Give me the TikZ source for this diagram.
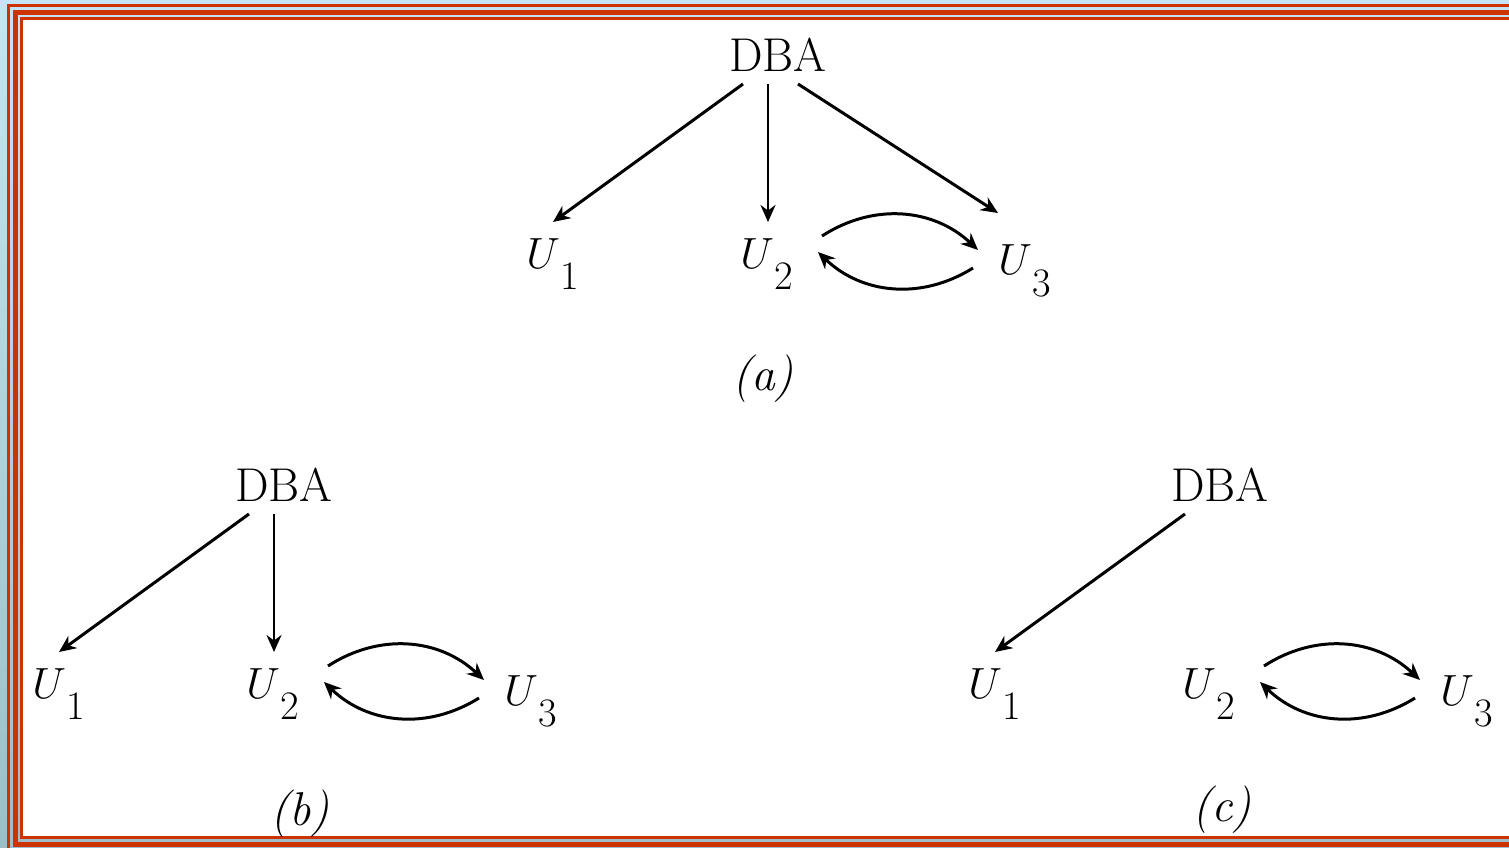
\documentclass[tikz,border=0pt]{standalone}
\usepackage{tikz}
\usetikzlibrary{arrows.meta,calc}
\definecolor{frame}{RGB}{204,51,0}
\definecolor{sky}{RGB}{198,228,245}
\definecolor{slate}{RGB}{160,188,202}
\newcommand{\uname}[1]{$U$\kern0.5pt\raisebox{-12.5pt}{\fontsize{23}{28}\selectfont #1}}

\begin{document}
\begin{tikzpicture}[
x=0.02cm,y=-0.02cm,
lbl/.style={font=\fontsize{27}{32}\selectfont,inner sep=0pt},
usr/.style={lbl,anchor=base west},
t/.style={-{Stealth[length=3.4mm,width=3mm]},line width=1.7pt}
]
% frame
\clip (0,0) rectangle (1509,848);
\shade[top color=sky,bottom color=slate] (0,0) rectangle (1509,848);
\fill[white] (23,20) rectangle (1520,836);
\draw[frame,line width=0.06cm] (8.5,5.3) rectangle (1530,860);
\draw[frame,line width=0.1cm] (15.5,12.5) rectangle (1530,844.5);
\draw[frame,line width=0.06cm] (21.5,18.5) rectangle (1530,837.5);

% (a)
\node[lbl] (dbaa) at (778,55) {DBA};
\node[usr] (u1a) at (526,268) {\uname{1}};
\node[usr] (u2a) at (740,268) {\uname{2}};
\node[usr] (u3a) at (998,275) {\uname{3}};
\draw[t] ($(dbaa)+(-35,29)$) -- ($(u1a.base west)+(27,-46)$);
\draw[t] ($(dbaa)+(-10,29)$) -- ($(u2a.base west)+(28,-46)$);
\draw[t] ($(dbaa)+(20,29)$) -- ($(u3a.base west)+(0,-62)$);
\draw[t] ($(u2a.base west)+(82,-32)$) to[bend left=38] ($(u3a.base west)+(-20,-25)$);
\draw[t] ($(u3a.base west)+(-25,-7)$) to[bend left=38] ($(u2a.base west)+(78,-16)$);
\node[lbl] (capa) at (763,379) {\textit{(a)}};

% (b)
\begin{scope}[shift={(-494,430)}]
\node[lbl] (dbab) at (778,55) {DBA};
\node[usr] (u1b) at (526,268) {\uname{1}};
\node[usr] (u2b) at (740,268) {\uname{2}};
\node[usr] (u3b) at (998,275) {\uname{3}};
\draw[t] ($(dbab)+(-35,29)$) -- ($(u1b.base west)+(27,-46)$);
\draw[t] ($(dbab)+(-10,29)$) -- ($(u2b.base west)+(28,-46)$);
\draw[t] ($(u2b.base west)+(82,-32)$) to[bend left=38] ($(u3b.base west)+(-20,-25)$);
\draw[t] ($(u3b.base west)+(-25,-7)$) to[bend left=38] ($(u2b.base west)+(78,-16)$);
\end{scope}
\node[lbl] (capb) at (300,814) {\textit{(b)}};

% (c)
\begin{scope}[shift={(442,430)}]
\node[lbl] (dbac) at (778,55) {DBA};
\node[usr] (u1c) at (526,268) {\uname{1}};
\node[usr] (u2c) at (740,268) {\uname{2}};
\node[usr] (u3c) at (998,275) {\uname{3}};
\draw[t] ($(dbac)+(-35,29)$) -- ($(u1c.base west)+(27,-46)$);
\draw[t] ($(u2c.base west)+(82,-32)$) to[bend left=38] ($(u3c.base west)+(-20,-25)$);
\draw[t] ($(u3c.base west)+(-25,-7)$) to[bend left=38] ($(u2c.base west)+(78,-16)$);
\end{scope}
\node[lbl] (capc) at (1222,810) {\textit{(c)}};
\end{tikzpicture}
\end{document}
